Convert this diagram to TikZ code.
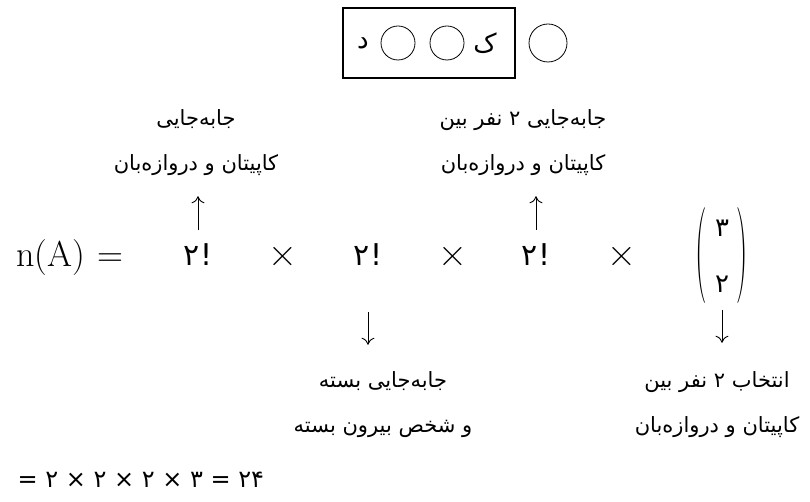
\documentclass[tikz,border=0pt]{standalone}
\usepackage{fontspec}
\usetikzlibrary{arrows.meta,positioning}
\newfontfamily\farsi[Script=Arabic]{DejaVu Sans}
\newfontfamily\farsinum{DejaVu Sans}
\TeXXeTstate=1
\newcommand\bigpar[1]{\vcenter{\hbox{\scalebox{1}[3]{#1}}}}

\begin{document}
\begin{tikzpicture}[x=1pt, y=-1pt, lbl/.style={font=\farsi\fontsize{21}{45}\selectfont, align=center, inner sep=2pt}]
\tikzstyle{crc}=[circle, draw, line width=0.8pt, minimum size=34pt, inner sep=0pt]
\tikzstyle{fct}=[font=\farsinum\fontsize{30}{30}\selectfont, inner sep=6pt]
\tikzstyle{tms}=[font=\fontsize{40}{40}\selectfont]
\tikzstyle{arr}=[-{Computer Modern Rightarrow[length=7pt,width=13pt]}, line width=0.9pt]
\useasboundingbox (0,0) rectangle (810,502);
% seats
\node[draw, line width=1.6pt, minimum width=172pt, minimum height=70pt] (box) at (429,43) {};
\node[font=\farsi\fontsize{26}{26}\selectfont] (d) at (363,43) {د};
\node[crc] (c1) at (398,43) {};
\node[crc] (c2) at (447,43) {};
\node[font=\farsi\fontsize{26}{26}\selectfont] (k) at (485,43) {ک};
\node[crc, minimum size=38pt] (c3) at (548,43) {};
% n(A)
\node[font=\fontsize{36}{36}\selectfont, anchor=west] (lhs) at (13,258) {n(A)\hspace{12pt}=};
\node[fct] (f1) at (198,255) {۲!};
\node[fct] (f2) at (368,255) {۲!};
\node[fct] (f3) at (536,255) {۲!};
\node[fct, font=\fontsize{32}{32}\selectfont, inner sep=2pt] (f4) at (722,256) {$\bigpar{(}\vcenter to 95pt{\vss\hbox{\kern8pt\farsinum\fontsize{26}{26}\selectfont ۳\kern8pt}\vskip 24pt\hbox{\kern8pt\farsinum\fontsize{26}{26}\selectfont ۲\kern8pt}\vss}\bigpar{)}$};
\foreach \n/\x in {m1/283,m2/453,m3/622}{\node[tms] (\n) at (\x,257) {×};}
% labels
\node[lbl] (t1) at (196,143) {\beginR جابه‌جایی\endR\\\beginR کاپیتان و دروازه‌بان\endR};
\node[lbl] (t2) at (523,143) {\beginR جابه‌جایی ۲ نفر بین\endR\\\beginR کاپیتان و دروازه‌بان\endR};
\node[lbl] (t3) at (383,405) {\beginR جابه‌جایی بسته\endR\\\beginR و شخص بیرون بسته\endR};
\node[lbl] (t4) at (717,405) {\beginR انتخاب ۲ نفر بین\endR\\\beginR کاپیتان و دروازه‌بان\endR};
\foreach \f/\a/\t/\b/\s/\e in {f1/north/t1/south/8pt/18pt,f3/north/t2/south/8pt/18pt,f2/south/t3/north/40pt/25pt,f4/south/t4/north/4pt/27pt}{\draw[arr, shorten <=\s, shorten >=\e] (\f.\a) -- (\f.\a |- \t.\b);}
% result
\node[font=\farsinum\fontsize{24}{24}\selectfont, anchor=west] (res) at (14,480) {= ۲ × ۲ × ۲ × ۳ = ۲۴};
\end{tikzpicture}
\end{document}
